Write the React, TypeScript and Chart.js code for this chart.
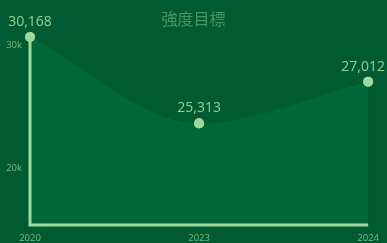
import React, { useEffect, useRef } from "react";
import { Chart, registerables } from "chart.js";

Chart.register(...registerables);

const title = "強度目標";
const categories = ["2020", "2023", "2024"];
// values as placed on the chart
const values = [30650, 23630, 27012];
// values as written next to the points
const valueLabels = ["30,168", "25,313", "27,012"];
const yTickValues = [20000, 30000];
const yMin = 15366;
const yMax = 30650;

const BG = "#005a32";
const FILL = "#006837";
const LIGHT = "#a1d99b";
const FONT = "'Open Sans', 'Noto Sans', sans-serif";

export default function App() {
  const ref = useRef<HTMLCanvasElement | null>(null);

  useEffect(() => {
    const canvas = ref.current;
    if (!canvas) return;

    const bgPlugin = {
      id: "bg",
      beforeDraw(chart: any) {
        const { ctx, width, height } = chart;
        ctx.save();
        ctx.fillStyle = BG;
        ctx.fillRect(0, 0, width, height);
        ctx.restore();
      },
      afterDraw(chart: any) {
        const { ctx, width } = chart;
        ctx.save();
        ctx.font = "16px 'Noto Sans CJK JP', sans-serif";
        ctx.fillStyle = "rgba(161,217,155,0.45)";
        ctx.textAlign = "center";
        ctx.textBaseline = "middle";
        ctx.fillText(title, width / 2, 19);
        ctx.restore();
      },
    };

    const axisPlugin = {
      id: "axisLines",
      afterDatasetsDraw(chart: any) {
        const { ctx, chartArea } = chart;
        const { left, right, top, bottom } = chartArea;
        ctx.save();
        ctx.strokeStyle = LIGHT;
        ctx.lineWidth = 3;
        ctx.lineCap = "butt";
        ctx.beginPath();
        ctx.moveTo(left, top);
        ctx.lineTo(left, bottom + 1.5);
        ctx.moveTo(left - 1.5, bottom);
        ctx.lineTo(right, bottom);
        ctx.stroke();
        // redraw points over the axis lines
        const meta = chart.getDatasetMeta(0);
        meta.data.forEach((pt: any) => pt.draw(ctx, chartArea));
        ctx.restore();
      },
    };

    const labelPlugin = {
      id: "valueLabels",
      afterDraw(chart: any) {
        const { ctx, width } = chart;
        const meta = chart.getDatasetMeta(0);
        ctx.save();
        ctx.font = "14px " + FONT;
        ctx.fillStyle = "rgba(161,217,155,0.92)";
        ctx.textAlign = "center";
        ctx.textBaseline = "middle";
        meta.data.forEach((pt: any, i: number) => {
          const text = valueLabels[i];
          const w = ctx.measureText(text).width;
          let x = pt.x;
          x = Math.max(w / 2 + 2, Math.min(width - w / 2 - 2, x));
          ctx.fillText(text, x, pt.y - 15);
        });
        ctx.restore();
      },
    };

    const chart = new Chart(canvas, {
      type: "line",
      data: {
        labels: categories,
        datasets: [
          {
            data: values,
            fill: "start",
            backgroundColor: FILL,
            borderColor: "rgba(0,0,0,0)",
            borderWidth: 0,
            cubicInterpolationMode: "monotone",
            tension: 0.4,
            pointRadius: 5,
            pointHoverRadius: 5,
            pointBackgroundColor: LIGHT,
            pointBorderWidth: 0,
            pointBorderColor: "rgba(0,0,0,0)",
            clip: false as any,
          },
        ],
      },
      options: {
        responsive: false,
        animation: false,
        layout: { padding: { top: 37, right: 16, left: 0, bottom: 0 } },
        plugins: {
          legend: { display: false },
          title: { display: false },
          tooltip: { enabled: false },
        },
        scales: {
          x: {
            type: "category",
            offset: false,
            grid: { display: false, drawTicks: false },
            border: { display: false },
            ticks: {
              color: "rgba(161,217,155,0.75)",
              font: { size: 9.5, family: FONT },
              padding: 8,
              maxRotation: 0,
              autoSkip: false,
            },
            afterFit(scale: any) {
              scale.height = 18;
            },
          },
          y: {
            min: yMin,
            max: yMax,
            grid: { display: false, drawTicks: false },
            border: { display: false },
            ticks: {
              color: "rgba(161,217,155,0.75)",
              font: { size: 9.5, family: FONT },
              padding: 8,
              callback: (v: any) => Number(v) / 1000 + "k",
            },
            afterBuildTicks(scale: any) {
              scale.ticks = yTickValues.map((v) => ({ value: v }));
            },
            afterFit(scale: any) {
              scale.width = 30;
            },
          },
        },
      },
      plugins: [bgPlugin, axisPlugin, labelPlugin],
    });

    return () => chart.destroy();
  }, []);

  return (
    <div style={{ position: "fixed", left: 0, top: 0, width: 387, height: 243, background: BG }}>
      <canvas ref={ref} width={387} height={243} style={{ display: "block", width: 387, height: 243 }} />
    </div>
  );
}
